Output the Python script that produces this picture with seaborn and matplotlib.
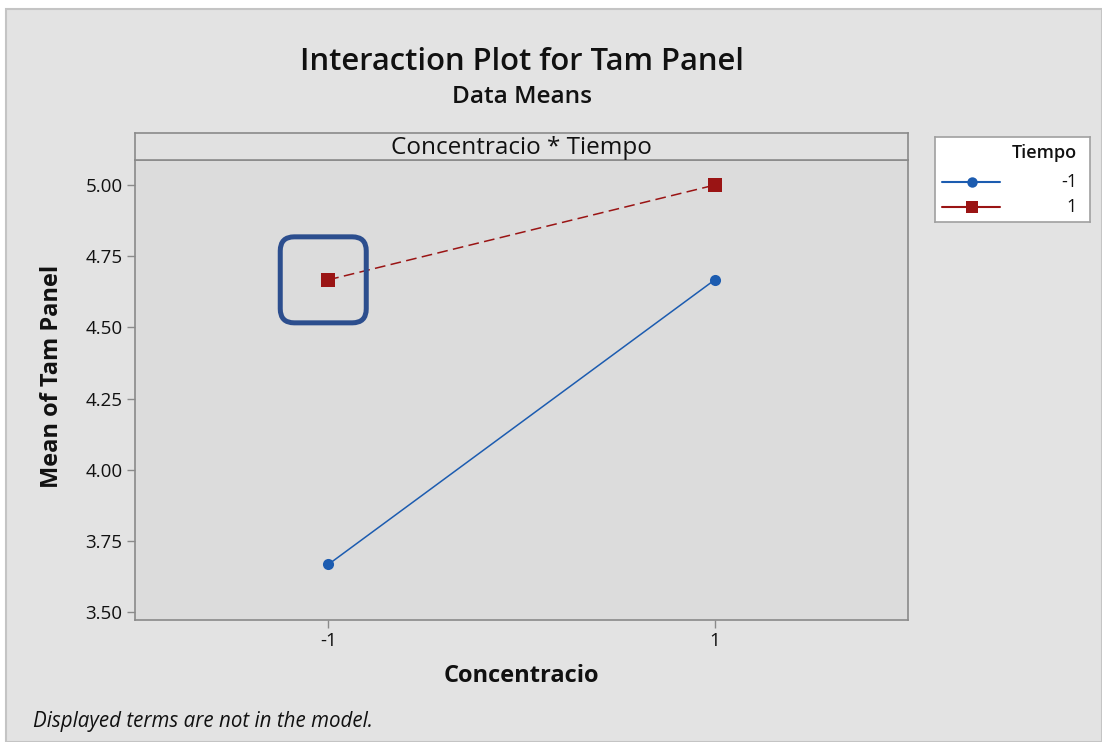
import matplotlib
matplotlib.use("Agg")
import matplotlib.pyplot as plt
from matplotlib.patches import Rectangle, FancyBboxPatch
from matplotlib.lines import Line2D
from matplotlib.transforms import IdentityTransform
import seaborn as sns
import pandas as pd

# Cell means for the Concentracio x Tiempo interaction
concentracio = [-1, 1, -1, 1]
tiempo = [-1, -1, 1, 1]
mean_tam_panel = [3.667, 4.667, 4.667, 5.000]

x_ticks = [-1, 1]
y_ticks = [3.50, 3.75, 4.00, 4.25, 4.50, 4.75, 5.00]
tiempo_levels = [-1, 1]
tiempo_labels = ["-1", "1"]

df = pd.DataFrame({"Concentracio": concentracio,
                   "Tiempo": tiempo,
                   "Mean": mean_tam_panel})

BLUE = "#1c5cb0"
RED = "#9a1414"
palette = {-1: BLUE, 1: RED}
markers = {-1: "o", 1: "s"}
dashes = {-1: "", 1: (7, 3.5)}
msizes = {-1: 8, 1: 9.5}

sns.set_style("white")
plt.rcParams["font.family"] = ["Open Sans", "DejaVu Sans"]

W, H = 1102, 742
fig = plt.figure(figsize=(W / 100, H / 100), dpi=100)
fig.patch.set_facecolor("white")

def fx(px):
    return px / W

def fy(py):
    return 1 - py / H

# Gray panel behind the whole graph
fig.patches.append(Rectangle((fx(6), 0), 1 - fx(6), fy(9), transform=fig.transFigure,
                             facecolor="#e3e3e3", edgecolor="#c4c4c4", linewidth=1.5,
                             zorder=-5))

# Main axes
ax = fig.add_axes([fx(135), fy(620), fx(908) - fx(135), fy(160) - fy(620)])
ax.set_facecolor("#dcdcdc")

for lvl in tiempo_levels:
    sub = df[df["Tiempo"] == lvl]
    sns.lineplot(data=sub, x="Concentracio", y="Mean", color=palette[lvl],
                 marker=markers[lvl], markersize=msizes[lvl], markeredgewidth=0,
                 linestyle="--" if dashes[lvl] else "-",
                 linewidth=1.1, ax=ax, legend=False, errorbar=None)
for ln, lvl in zip(ax.get_lines(), tiempo_levels):
    if dashes[lvl]:
        ln.set_dashes(dashes[lvl])

ax.set_xlim(-2, 2)
ax.set_ylim(3.472, 5.088)
ax.set_xticks(x_ticks)
ax.set_xticklabels([str(v) for v in x_ticks])
ax.set_yticks(y_ticks)
ax.set_yticklabels([f"{v:.2f}" for v in y_ticks])
ax.tick_params(axis="both", bottom=True, left=True, direction="out", length=6, width=1,
               color="#8a8a8a", labelsize=13.5, labelcolor="#111111", pad=3)
for sp in ax.spines.values():
    sp.set_color("#8a8a8a")
    sp.set_linewidth(1.2)
ax.set_xlabel("Concentracio", fontsize=17, fontweight="bold", labelpad=10, color="#111111")
ax.set_ylabel("Mean of Tam Panel", fontsize=17, fontweight="bold", labelpad=12,
              color="#111111")
ax.yaxis.set_label_coords(-0.0915, 0.53)

# Panel strip
strip = fig.add_axes([fx(135), fy(160), fx(908) - fx(135), fy(133) - fy(160)])
strip.set_facecolor("#e1e1e1")
strip.set_xticks([])
strip.set_yticks([])
for sp in strip.spines.values():
    sp.set_color("#8a8a8a")
    sp.set_linewidth(1.2)
strip.text(0.5, 0.45, "Concentracio * Tiempo", ha="center", va="center",
           fontsize=17.5, color="#111111", transform=strip.transAxes)

# Titles
cx = fx((135 + 908) / 2)
fig.text(cx, fy(62), "Interaction Plot for Tam Panel", ha="center", va="center",
         fontsize=22.3, fontweight="semibold", color="#111111")
fig.text(cx, fy(97), "Data Means", ha="center", va="center",
         fontsize=17.6, fontweight="semibold", color="#111111")

# Footnote
fig.text(fx(33), fy(722), "Displayed terms are not in the model.", ha="left", va="center",
         fontsize=14.8, style="italic", color="#111111")

# Legend box
lg = fig.add_axes([fx(935), fy(222), fx(1090) - fx(935), fy(137) - fy(222)])
lg.set_facecolor("white")
lg.set_xlim(935, 1090)
lg.set_ylim(222, 137)
lg.set_xticks([])
lg.set_yticks([])
for sp in lg.spines.values():
    sp.set_color("#a0a0a0")
    sp.set_linewidth(1.2)
lg.text(1077, 153, "Tiempo", ha="right", va="center", fontsize=13, fontweight="semibold",
        color="#111111")
for i, lvl in enumerate(tiempo_levels):
    yy = 182 + 25 * i
    lg.add_line(Line2D([942, 1000], [yy, yy], color=palette[lvl], linewidth=1.5))
    lg.add_line(Line2D([972], [yy], color=palette[lvl], marker=markers[lvl],
                       markersize=msizes[lvl] - 0.5, markeredgewidth=0, linestyle="none"))
    lg.text(1077, yy, tiempo_labels[i], ha="right", va="center", fontsize=13,
            color="#111111")

# Highlight around the Concentracio=-1, Tiempo=1 mean
px, py = ax.transData.transform((concentracio[2], mean_tam_panel[2]))
hw = 43
highlight = FancyBboxPatch((px - 5 - hw + 12, py - hw + 12), 2 * hw - 24, 2 * hw - 24,
                           boxstyle="round,pad=12,rounding_size=14",
                           transform=IdentityTransform(), facecolor="none",
                           edgecolor="#2c4e8e", linewidth=3.6, zorder=10)
fig.patches.append(highlight)

fig.savefig("out.png", dpi=100)
